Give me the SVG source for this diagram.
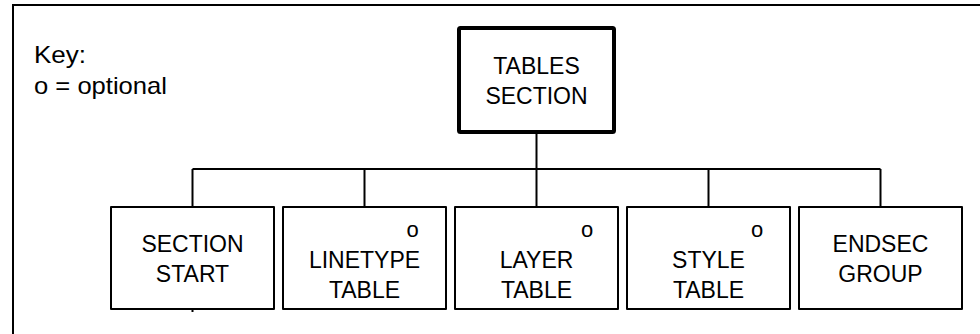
<svg xmlns="http://www.w3.org/2000/svg" width="980" height="334" viewBox="0 0 980 334">
<style>
text{font-family:"Liberation Sans",Arial,sans-serif;font-size:23px;fill:#000;}
.c{text-anchor:middle;}
.k{font-size:24px;}
.box{fill:#fff;stroke:#000;stroke-width:2;stroke-linejoin:round;}
.top{fill:#fff;stroke:#000;stroke-width:4;stroke-linejoin:round;}
.ln{stroke:#000;stroke-width:2;fill:none;}
.o{font-size:22px;}
</style>
<rect width="980" height="334" fill="#fff"/>
<g id="frame">
<path class="ln" d="M13,334 V5 H980"/>
</g>
<g id="key">
<text class="k" x="34" y="62.5" textLength="52" lengthAdjust="spacingAndGlyphs">Key:</text>
<text class="k" x="34" y="93.5" textLength="133" lengthAdjust="spacingAndGlyphs">o = optional</text>
</g>
<g id="connectors">
<path class="ln" d="M536.5,132 V169"/>
<path class="ln" d="M192.5,169 H880.5"/>
<path class="ln" d="M192.5,169 V207"/>
<path class="ln" d="M364.5,169 V207"/>
<path class="ln" d="M536.5,169 V207"/>
<path class="ln" d="M708.5,169 V207"/>
<path class="ln" d="M880.5,169 V207"/>
<path class="ln" d="M192.5,309 V312"/>
</g>
<g id="tables-section">
<rect class="top" x="459" y="28" width="155" height="104" rx="1.5"/>
<text class="c" x="536.5" y="74">TABLES</text>
<text class="c" x="536.5" y="104">SECTION</text>
</g>
<g id="section-start">
<rect class="box" x="111" y="207" width="163" height="102"/>
<text class="c" x="192.5" y="252">SECTION</text>
<text class="c" x="192.5" y="282">START</text>
</g>
<g id="linetype-table">
<rect class="box" x="283" y="207" width="163" height="102"/>
<text class="c o" x="412.5" y="236.5">o</text>
<text class="c" x="364.5" y="268">LINETYPE</text>
<text class="c" x="364.5" y="298">TABLE</text>
</g>
<g id="layer-table">
<rect class="box" x="455" y="207" width="163" height="102"/>
<text class="c o" x="587" y="236.5">o</text>
<text class="c" x="536.5" y="268">LAYER</text>
<text class="c" x="536.5" y="298">TABLE</text>
</g>
<g id="style-table">
<rect class="box" x="627" y="207" width="163" height="102"/>
<text class="c o" x="757" y="236.5">o</text>
<text class="c" x="708.5" y="268">STYLE</text>
<text class="c" x="708.5" y="298">TABLE</text>
</g>
<g id="endsec-group">
<rect class="box" x="799" y="207" width="163" height="102"/>
<text class="c" x="880.5" y="252">ENDSEC</text>
<text class="c" x="880.5" y="282">GROUP</text>
</g>
</svg>
